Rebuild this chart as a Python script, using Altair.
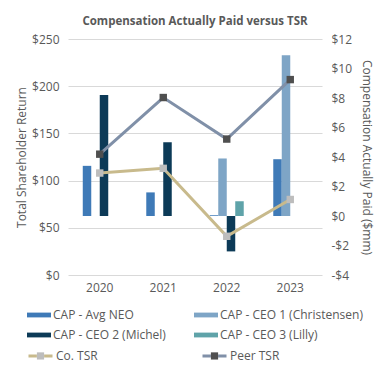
import altair as alt
import pandas as pd

years = ["2020", "2021", "2022", "2023"]
cap_series = ["CAP - Avg NEO", "CAP - CEO 1 (Christensen)", "CAP - CEO 2 (Michel)", "CAP - CEO 3 (Lilly)"]
cap_colors = ["#3F7AB7", "#7EA5C6", "#0C3A57", "#5FA3A9"]
# CAP values in $mm (None = not applicable)
cap_avg_neo = [3.4, 1.6, 0.05, 3.85]
cap_ceo1 = [None, None, 3.9, 10.9]
cap_ceo2 = [8.2, 5.0, -2.4, None]
cap_ceo3 = [None, None, 1.0, None]

tsr_series = ["Co. TSR", "Peer TSR"]
tsr_line_colors = ["#C8BA8C", "#8090A8"]
tsr_marker_colors = ["#BDBDBD", "#4F4F4F"]
co_tsr = [108, 113, 41, 80]
peer_tsr = [128, 188, 144, 207]

bar_rows = []
for s, vals in zip(cap_series, [cap_avg_neo, cap_ceo1, cap_ceo2, cap_ceo3]):
    for y, v in zip(years, vals):
        if v is not None:
            bar_rows.append({"year": y, "series": s, "cap": v})
bars_df = pd.DataFrame(bar_rows)

line_rows = []
for s, vals in zip(tsr_series, [co_tsr, peer_tsr]):
    for y, v in zip(years, vals):
        line_rows.append({"year": y, "series": s, "marker": s, "tsr": v})
lines_df = pd.DataFrame(line_rows)

FONT = "Open Sans"
GREY = "#595959"

LINE_SYM = "M-1,0H-0.3M0.3,0H1M0,-0.3L0,-0.3M0,0.3L0,0.3"
SQ_SYM = "M-1,0L-1,0M1,0L1,0M-0.3,-0.3H0.3V0.3H-0.3Z"

xenc = alt.X("year:N", sort=years,
             scale=alt.Scale(paddingInner=0.465, paddingOuter=0.2325),
             axis=alt.Axis(title=None, labelAngle=0, domain=False, ticks=False,
                           labelPadding=7, labelFontSize=12, labelColor=GREY, labelFont=FONT))

bars = alt.Chart(bars_df).mark_bar().encode(
    x=xenc,
    xOffset=alt.XOffset("series:N", scale=alt.Scale(domain=cap_series, paddingInner=0, paddingOuter=0)),
    y=alt.Y("cap:Q", scale=alt.Scale(domain=[-4, 12], nice=False, zero=False),
            axis=alt.Axis(orient="right", title="Compensation Actually Paid ($mm)",
                          values=[-4, -2, 0, 2, 4, 6, 8, 10, 12],
                          labelExpr="datum.value < 0 ? '-$' + abs(datum.value) : '$' + datum.value",
                          grid=False, domain=False, ticks=False, labelPadding=9,
                          labelFontSize=12, labelColor=GREY, labelFont=FONT,
                          titleFontSize=12, titleColor=GREY, titleFont=FONT, titleFontWeight="normal",
                          titlePadding=8)),
    color=alt.Color("series:N", scale=alt.Scale(domain=cap_series, range=cap_colors),
                    legend=alt.Legend(title=None, orient="none", legendX=-41, legendY=264,
                                      columns=2, direction="horizontal", columnPadding=28, rowPadding=2,
                                      symbolType="M-1,-0.2H1V0.2H-1Z", symbolSize=576,
                                      symbolStrokeWidth=0, labelOffset=2,
                                      labelFontSize=12, labelColor=GREY, labelFont=FONT)),
)

line_legend = dict(title=None, orient="none", legendX=-41, legendY=303,
                   columns=2, direction="horizontal", columnPadding=98, rowPadding=2,
                   symbolSize=576, symbolStrokeWidth=3, labelOffset=2,
                   labelFontSize=12, labelFont=FONT)

lines = alt.Chart(lines_df).mark_line(strokeWidth=3).encode(
    x=alt.X("year:N", sort=years),
    y=alt.Y("tsr:Q", scale=alt.Scale(domain=[0, 250], nice=False),
            axis=alt.Axis(orient="left", title="Total Shareholder Return",
                          values=[0, 50, 100, 150, 200, 250], format="$,.0f",
                          grid=True, gridColor="#D9D9D9", gridWidth=1,
                          domain=False, ticks=False, labelPadding=9,
                          labelFontSize=12, labelColor=GREY, labelFont=FONT,
                          titleFontSize=12, titleColor=GREY, titleFont=FONT, titleFontWeight="normal",
                          titlePadding=3)),
    stroke=alt.Stroke("series:N", scale=alt.Scale(domain=tsr_series, range=tsr_line_colors),
                      legend=alt.Legend(symbolType=LINE_SYM, labelColor=GREY, **line_legend)),
)

points = alt.Chart(lines_df).mark_point(shape="square", filled=True, size=55, opacity=1).encode(
    x=alt.X("year:N", sort=years),
    y=alt.Y("tsr:Q"),
    fill=alt.Fill("marker:N", scale=alt.Scale(range=tsr_marker_colors),
                  legend=alt.Legend(symbolType=SQ_SYM, symbolStrokeColor="transparent",
                                    labelColor="transparent", **line_legend)),
)

tsr_layer = alt.layer(lines, points)

chart = alt.layer(bars, tsr_layer).resolve_scale(
    y="independent", color="independent", stroke="independent", fill="independent"
).properties(
    width=254, height=236,
    title=alt.TitleParams("Compensation Actually Paid versus TSR", fontSize=11.5, font=FONT,
                          fontWeight="bold", color=GREY, anchor="middle", offset=6),
    autosize=alt.AutoSizeParams(type="none"),
    padding={"left": 60, "top": 31, "right": 54, "bottom": 88},
).configure_view(stroke=None)

chart.save("out.html", embed_options={"renderer": "svg", "actions": False})
